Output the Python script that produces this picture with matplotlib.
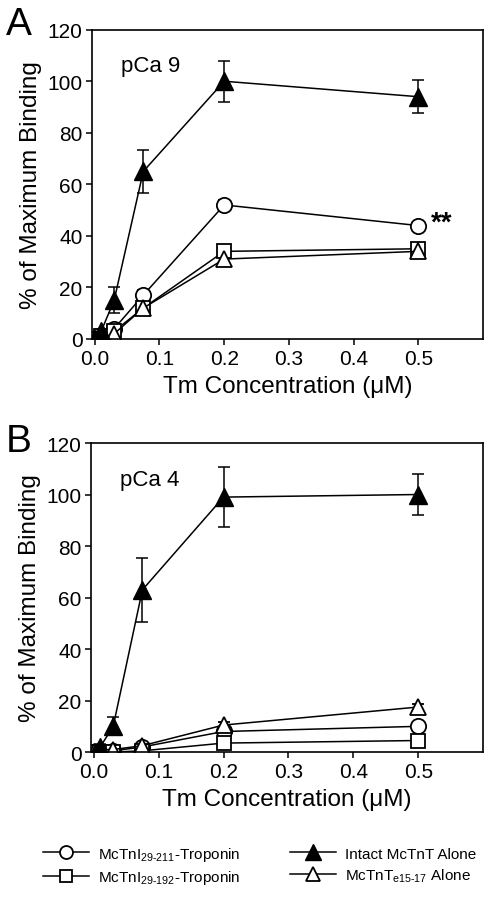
import matplotlib.pyplot as plt

plt.rcParams['font.family'] = ['Liberation Sans', 'DejaVu Sans']
plt.rcParams['mathtext.fontset'] = 'custom'
plt.rcParams['mathtext.rm'] = 'Liberation Sans'

# Tm concentrations (uM)
conc = [0, 0.01, 0.03, 0.075, 0.2, 0.5]

# panel A, pCa 9
a_circle = [0, 1, 4, 17, 52, 44]
a_circle_err = [0, 0, 1, 2, 2, 1]
a_square = [0, 1, 3, 12, 34, 35]
a_square_err = [0, 0, 1, 1, 2, 2]
a_filled = [0, 3, 15, 65, 100, 94]
a_filled_err = [0, 1, 5, 8.5, 8, 6.5]
a_open = [0, 0.5, 2, 12, 31, 34]
a_open_err = [0, 0, 1, 1, 1.5, 1.5]

# panel B, pCa 4
b_circle = [0, 0, 0.5, 2, 8, 10]
b_circle_err = [0, 0, 0.5, 0.5, 1, 1]
b_square = [0, 0, 0, 0.5, 3.5, 4.5]
b_square_err = [0, 0, 0.5, 0.5, 0.5, 0.5]
b_filled = [-1, 2, 10, 63, 99, 100]
b_filled_err = [0, 1, 3.5, 12.5, 11.5, 8]
b_open = [0, 1, 1, 2.5, 10.5, 17.5]
b_open_err = [0, 0, 0.5, 0.5, 1, 1]

labels = [r"McTnI$_{\mathregular{29\text{-}211}}$-Troponin",
          r"McTnI$_{\mathregular{29\text{-}192}}$-Troponin",
          "Intact McTnT Alone",
          r"McTnT$_{\mathregular{e15\text{-}17}}$ Alone"]

fig = plt.figure(figsize=(4.9, 9.03), dpi=100)
axA = fig.add_axes([0.188, 0.6235, 0.798, 0.3425])
axB = fig.add_axes([0.186, 0.166, 0.800, 0.3423])


def panel(ax, circ, ce, sq, se, fil, fe, opn, oe, tag):
    kw = dict(color='black', lw=1.1, capsize=4, elinewidth=1.1, capthick=1.1)
    h1 = ax.errorbar(conc, circ, yerr=ce, marker='o', ms=11, mfc='white', mec='black', mew=1.3, **kw)
    h2 = ax.errorbar(conc, sq, yerr=se, marker='s', ms=10, mfc='white', mec='black', mew=1.3, **kw)
    h4 = ax.errorbar(conc, opn, yerr=oe, marker='^', ms=12, mfc='white', mec='black', mew=1.3, **kw)
    h3 = ax.errorbar(conc, fil, yerr=fe, marker='^', ms=13, mfc='black', mec='black', **kw)
    ax.set_xlim(-0.004, 0.6)
    ax.set_ylim(0, 120)
    ax.set_xticks([0, 0.1, 0.2, 0.3, 0.4, 0.5])
    ax.set_xticklabels(['0.0', '0.1', '0.2', '0.3', '0.4', '0.5'])
    ax.set_yticks(range(0, 121, 20))
    ax.tick_params(labelsize=15, length=4, width=1.1, pad=3)
    for s in ax.spines.values():
        s.set_linewidth(1.2)
    ax.set_xlabel(u"Tm Concentration (\u03bcM)", fontsize=17.5, labelpad=5)
    ax.set_ylabel("% of Maximum Binding", fontsize=17.5, labelpad=4)
    ax.text(0.04, 106, tag, fontsize=16, va='center')
    return [h1, h2, h3, h4]


handles = panel(axA, a_circle, a_circle_err, a_square, a_square_err,
                a_filled, a_filled_err, a_open, a_open_err, "pCa 9")
axA.text(0.52, 45, "**", fontsize=20, fontweight='bold', va='center')
panel(axB, b_circle, b_circle_err, b_square, b_square_err,
      b_filled, b_filled_err, b_open, b_open_err, "pCa 4")

fig.text(0.012, 0.972, "A", fontsize=28, va='center')
fig.text(0.012, 0.5105, "B", fontsize=28, va='center')

leg_handles = []
for h in handles:
    leg_handles.append(h[0])
fig.legend(leg_handles, labels, loc='center', bbox_to_anchor=(0.53, 0.0405), ncol=2,
           frameon=False, fontsize=11, handlelength=3.0, columnspacing=3.2,
           handletextpad=0.6, labelspacing=0.35, markerscale=0.85)

fig.savefig("out.png", dpi=100)
